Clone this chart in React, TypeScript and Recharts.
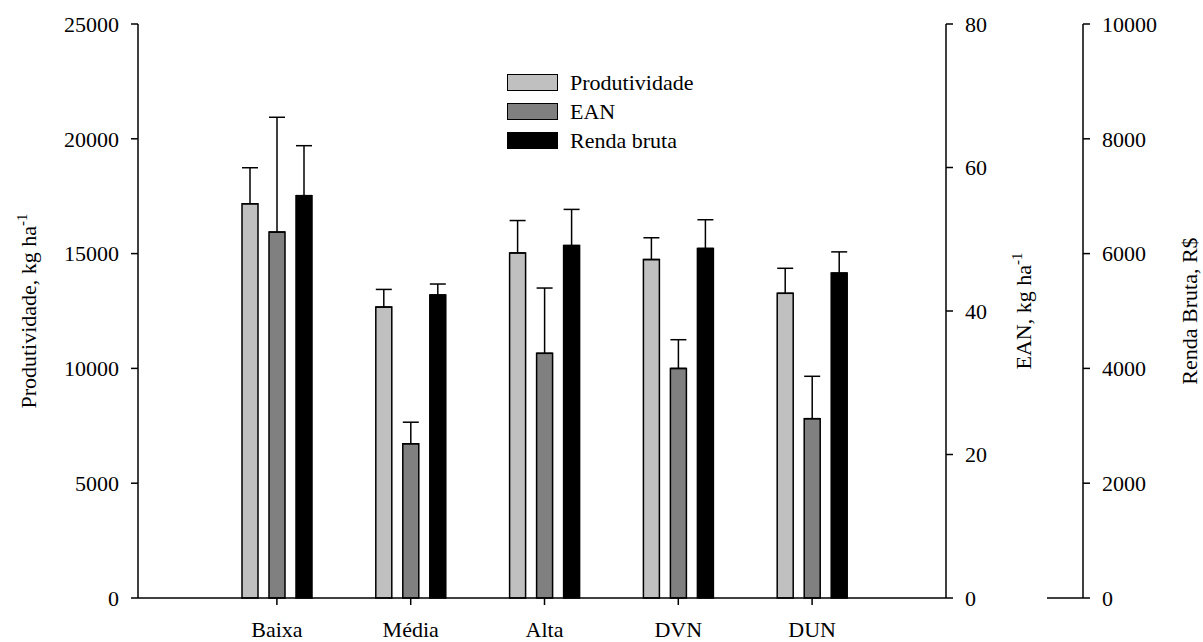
import React from 'react';
import { BarChart, Bar, XAxis, YAxis, ErrorBar, Legend } from 'recharts';

const categories = ['Baixa', 'Média', 'Alta', 'DVN', 'DUN'];
const produtividade = [17170, 12670, 15030, 14740, 13270];
const produtividadeErr = [1570, 770, 1410, 950, 1090];
const ean = [51.0, 21.5, 34.1, 32.0, 25.0];
const eanErr = [16.0, 3.0, 9.1, 4.0, 5.9];
const renda = [7010, 5280, 6140, 6090, 5660];
const rendaErr = [870, 190, 630, 500, 370];

const seriesNames = ['Produtividade', 'EAN', 'Renda bruta'];
const prodTicks = [0, 5000, 10000, 15000, 20000, 25000];
const eanTicks = [0, 20, 40, 60, 80];
const rendaTicks = [0, 2000, 4000, 6000, 8000, 10000];

const data = categories.map((name, i) => ({
  name,
  prod: produtividade[i],
  prodErr: [0, produtividadeErr[i]],
  ean: ean[i],
  eanErr: [0, eanErr[i]],
  renda: renda[i],
  rendaErr: [0, rendaErr[i]],
}));

const FONT = 'Liberation Serif, DejaVu Serif, serif';
const tickStyle = { fill: '#000', fontSize: 22, fontFamily: FONT };

// rotated axis titles, centred on the plot's vertical middle
const ProdLabel = (props: any) => {
  const { viewBox } = props;
  const cx = viewBox.x + 36;
  const cy = viewBox.y + 287;
  return (
    <text x={cx} y={cy} transform={`rotate(-90 ${cx} ${cy})`} textAnchor="middle" fontFamily={FONT} fontSize={22} fill="#000">
      Produtividade, kg ha<tspan dy={-9} fontSize={15}>-1</tspan>
    </text>
  );
};

const EanLabel = (props: any) => {
  const { viewBox } = props;
  const cx = viewBox.x + 85;
  const cy = viewBox.y + 287;
  return (
    <text x={cx} y={cy} transform={`rotate(-90 ${cx} ${cy})`} textAnchor="middle" fontFamily={FONT} fontSize={22} fill="#000">
      EAN, kg ha<tspan dy={-9} fontSize={15}>-1</tspan>
    </text>
  );
};

const RendaLabel = (props: any) => {
  const { viewBox } = props;
  const cx = viewBox.x + 114;
  const cy = viewBox.y + 287;
  const by = viewBox.y + viewBox.height;
  return (
    <g>
      <line x1={viewBox.x - 36} y1={by} x2={viewBox.x} y2={by} stroke="#000" strokeWidth={1.5} />
      <text x={cx} y={cy} transform={`rotate(-90 ${cx} ${cy})`} textAnchor="middle" fontFamily={FONT} fontSize={22} fill="#000">
        Renda Bruta, R$
      </text>
    </g>
  );
};

const LegendBox = (props: any) => {
  const items = [...(props.payload || [])].sort(
    (a: any, b: any) => seriesNames.indexOf(a.value) - seriesNames.indexOf(b.value)
  );
  return (
    <div style={{ fontFamily: FONT, fontSize: 22, color: '#000' }}>
      {items.map((p: any) => (
        <div key={p.value} style={{ display: 'flex', alignItems: 'center', height: 29 }}>
          <div
            style={{
              width: 49,
              height: 15,
              background: p.color,
              border: '1.5px solid #000',
              marginRight: 12,
            }}
          />
          <span style={{ lineHeight: '22px' }}>{p.value}</span>
        </div>
      ))}
    </div>
  );
};

const App: React.FC = () => {
  return (
    <div style={{ position: 'absolute', left: 0, top: 0, background: '#fff' }}>
      <BarChart
        width={1203}
        height={642}
        data={data}
        margin={{ top: 24, right: 0, left: 0, bottom: 0 }}
        barSize={16}
        barGap={11}
      >
        <XAxis
          dataKey="name"
          height={44}
          padding={{ left: 72, right: 67 }}
          tick={tickStyle}
          tickSize={7}
          tickMargin={16}
          axisLine={{ stroke: '#000', strokeWidth: 1.5 }}
          tickLine={{ stroke: '#000', strokeWidth: 1.5 }}
          interval={0}
        />
        <YAxis
          yAxisId="p"
          orientation="left"
          width={138}
          domain={[0, 25000]}
          ticks={prodTicks}
          tick={tickStyle}
          tickSize={7}
          tickMargin={12}
          axisLine={{ stroke: '#000', strokeWidth: 1.5 }}
          tickLine={{ stroke: '#000', strokeWidth: 1.5 }}
          label={<ProdLabel />}
        />
        <YAxis
          yAxisId="e"
          orientation="right"
          width={137}
          domain={[0, 80]}
          ticks={eanTicks}
          tick={{ ...tickStyle, textAnchor: 'start' }}
          tickSize={7}
          tickMargin={12}
          axisLine={{ stroke: '#000', strokeWidth: 1.5 }}
          tickLine={{ stroke: '#000', strokeWidth: 1.5 }}
          label={<EanLabel />}
        />
        <YAxis
          yAxisId="r"
          orientation="right"
          width={120}
          domain={[0, 10000]}
          ticks={rendaTicks}
          tick={{ ...tickStyle, textAnchor: 'start' }}
          tickSize={7}
          tickMargin={12}
          axisLine={{ stroke: '#000', strokeWidth: 1.5 }}
          tickLine={{ stroke: '#000', strokeWidth: 1.5 }}
          label={<RendaLabel />}
        />
        <Legend
          layout="vertical"
          verticalAlign="middle"
          align="center"
          content={<LegendBox />}
          wrapperStyle={{ position: 'absolute', left: 507, top: 68, width: 220 }}
        />
        <Bar dataKey="prod" name="Produtividade" yAxisId="p" fill="#c0c0c0" stroke="#000" strokeWidth={1.5} isAnimationActive={false}>
          <ErrorBar dataKey="prodErr" width={8} stroke="#000" strokeWidth={1.5} direction="y" />
        </Bar>
        <Bar dataKey="ean" name="EAN" yAxisId="e" fill="#808080" stroke="#000" strokeWidth={1.5} isAnimationActive={false}>
          <ErrorBar dataKey="eanErr" width={8} stroke="#000" strokeWidth={1.5} direction="y" />
        </Bar>
        <Bar dataKey="renda" name="Renda bruta" yAxisId="r" fill="#000" stroke="#000" strokeWidth={1.5} isAnimationActive={false}>
          <ErrorBar dataKey="rendaErr" width={8} stroke="#000" strokeWidth={1.5} direction="y" />
        </Bar>
      </BarChart>
    </div>
  );
};

export default App;
